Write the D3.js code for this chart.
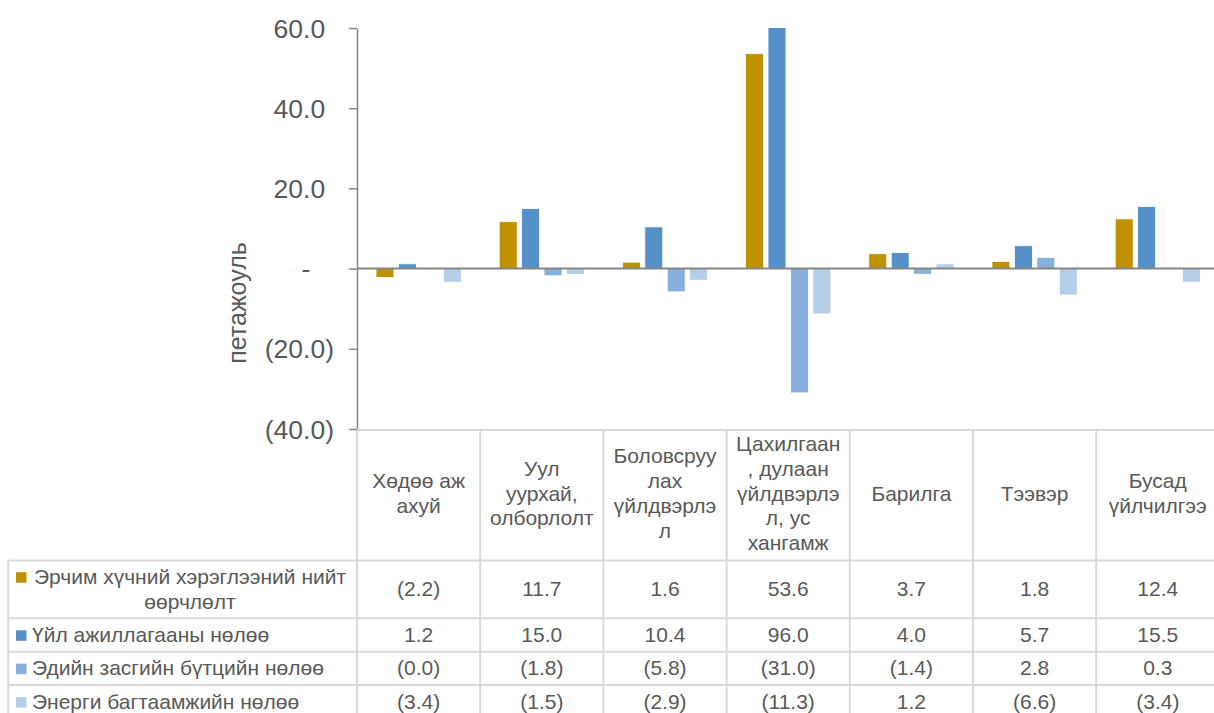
<!DOCTYPE html>
<html>
<head>
<meta charset="utf-8">
<script src="https://cdn.jsdelivr.net/npm/d3@7"></script>
<style>
  body { margin: 0; background: #fff; }
  svg { display: block; font-family: "Liberation Sans", Arial, sans-serif; }
</style>
</head>
<body>
<div id="chart"></div>
<script>
// categories, wrapped the way the table header shows them
const categories = [
  ["Хөдөө аж", "ахуй"],
  ["Уул", "уурхай,", "олборлолт"],
  ["Боловсруу", "лах", "үйлдвэрлэ", "л"],
  ["Цахилгаан", ", дулаан", "үйлдвэрлэ", "л, ус", "хангамж"],
  ["Барилга"],
  ["Тээвэр"],
  ["Бусад", "үйлчилгээ"]
]
const seriesNames = [
  ["Эрчим хүчний хэрэглээний нийт", "өөрчлөлт"],
  ["Үйл ажиллагааны нөлөө"],
  ["Эдийн засгийн бүтцийн нөлөө"],
  ["Энерги багтаамжийн нөлөө"]
]
const totalChange     = [-2.2, 11.7, 1.6, 53.6, 3.7, 1.8, 12.4]
const activityEffect  = [1.2, 15.0, 10.4, 96.0, 4.0, 5.7, 15.5]
const structureEffect = [-0.04, -1.8, -5.8, -31.0, -1.4, 2.8, 0.3]
const intensityEffect = [-3.4, -1.5, -2.9, -11.3, 1.2, -6.6, -3.4]
const yTicks = [-40, -20, 0, 20, 40, 60]
const colors = ["#BF9000", "#5591C8", "#87B0DC", "#B7CEE9"]

const seriesValues = [totalChange, activityEffect, structureEffect, intensityEffect]

const W = 1214, H = 713
const plotLeft = 357, plotTop = 28, plotBottom = 429, colW = 123.2
const tableLeft = 8.3
const headerTop = 430
const rowEdges = [560.5, 618.3, 651.7, 685, 718.5]
const gridColor = "#D9D9D9", textColor = "#595959"

const svg = d3.select("#chart").append("svg")
  .attr("width", W)
  .attr("height", H)

const x = d3.scaleBand()
  .domain(d3.range(categories.length))
  .range([plotLeft, plotLeft + colW * categories.length])

const x1 = d3.scaleBand()
  .domain(d3.range(seriesValues.length))
  .range([19, colW - 19])
  .paddingInner(0.2)

const y = d3.scaleLinear()
  .domain([-40, 60])
  .range([plotBottom, plotTop])

const fmt = v => v < 0 ? "(" + d3.format(".1f")(-v) + ")" : d3.format(".1f")(v)

svg.append("clipPath").attr("id", "plotclip")
  .append("rect")
  .attr("x", plotLeft).attr("y", plotTop)
  .attr("width", W - plotLeft).attr("height", plotBottom - plotTop)

// bars
const groups = svg.append("g").attr("clip-path", "url(#plotclip)")
  .selectAll("g")
  .data(seriesValues)
  .enter()
  .append("g")
  .attr("fill", (d, i) => colors[i])

groups.selectAll("rect")
  .data((d, s) => d.map((v, i) => ({ v, i, s })))
  .enter()
  .append("rect")
  .attr("x", d => x(d.i) + x1(d.s))
  .attr("width", x1.bandwidth())
  .attr("y", d => y(Math.max(0, d.v)))
  .attr("height", d => Math.abs(y(d.v) - y(0)))
  .attr("stroke", "#fff")
  .attr("stroke-width", 0.8)

// zero line
svg.append("line")
  .attr("x1", plotLeft).attr("x2", W)
  .attr("y1", y(0)).attr("y2", y(0))
  .attr("stroke", "#868686")
  .attr("stroke-width", 2)

// y axis
const yAxis = svg.append("g")
  .attr("transform", `translate(${plotLeft},0)`)
  .call(d3.axisLeft(y).tickValues(yTicks).tickSize(8).tickSizeOuter(0).tickPadding(15).tickFormat(""))

yAxis.select(".domain").attr("stroke", "#868686").attr("stroke-width", 1.5)
yAxis.selectAll(".tick line").attr("stroke", "#868686").attr("stroke-width", 1.5)

const tickText = yAxis.selectAll(".tick text")
  .attr("fill", textColor)
  .attr("font-size", 26.5)
  .attr("font-family", "Liberation Sans, Arial, sans-serif")
  .attr("dy", "0.34em")

tickText.each(function (d) {
  const t = d3.select(this)
  if (d === 0) {
    t.append("tspan").text("-")
    t.append("tspan").attr("fill-opacity", 0).text("0)")
  } else if (d < 0) {
    t.append("tspan").text(fmt(d))
  } else {
    t.append("tspan").text(fmt(d))
    t.append("tspan").attr("fill-opacity", 0).text(")")
  }
})

// axis title
svg.append("text")
  .attr("transform", "translate(246,303) rotate(-90)")
  .attr("text-anchor", "middle")
  .attr("fill", textColor)
  .attr("font-size", 25)
  .text("петажоуль")

// data table grid
const colEdges = d3.range(categories.length + 1).map(i => plotLeft + colW * i)
const grid = svg.append("g")
  .attr("stroke", gridColor)
  .attr("stroke-width", 2)

grid.append("line")
  .attr("x1", plotLeft).attr("x2", W)
  .attr("y1", headerTop).attr("y2", headerTop)

grid.selectAll(".hrow")
  .data(rowEdges)
  .enter()
  .append("line")
  .attr("x1", tableLeft).attr("x2", W)
  .attr("y1", d => d).attr("y2", d => d)

grid.selectAll(".vcol")
  .data(colEdges)
  .enter()
  .append("line")
  .attr("x1", d => d).attr("x2", d => d)
  .attr("y1", headerTop).attr("y2", H + 10)

grid.append("line")
  .attr("x1", tableLeft).attr("x2", tableLeft)
  .attr("y1", rowEdges[0]).attr("y2", H + 10)

// header text
const lineH = 24.7
svg.append("g")
  .selectAll("text")
  .data(categories)
  .enter()
  .append("text")
  .attr("text-anchor", "middle")
  .attr("fill", textColor)
  .attr("font-size", 21)
  .each(function (lines, i) {
    const first = 500.5 - (lines.length - 1) * lineH / 2
    d3.select(this).selectAll("tspan")
      .data(lines)
      .enter()
      .append("tspan")
      .attr("x", x(i) + x.bandwidth() / 2)
      .attr("y", (l, k) => first + k * lineH)
      .text(l => l)
  })

// legend rows
const rowCenter = k => (rowEdges[k] + rowEdges[k + 1]) / 2
const legendRows = svg.append("g")
  .selectAll("g")
  .data(seriesNames)
  .enter()
  .append("g")

legendRows.each(function (lines, k) {
  const g = d3.select(this)
  const first = rowCenter(k) + 6.8 - (lines.length - 1) * 25 / 2
  g.append("rect")
    .attr("x", 16)
    .attr("y", first - 11.5)
    .attr("width", 10.5)
    .attr("height", 10.5)
    .attr("fill", colors[k])
  const t = g.append("text")
    .attr("fill", textColor)
    .attr("font-size", 21)
    .attr("text-anchor", lines.length > 1 ? "middle" : "start")
  t.selectAll("tspan")
    .data(lines)
    .enter()
    .append("tspan")
    .attr("x", lines.length > 1 ? 190 : 32)
    .attr("y", (l, j) => first + j * 25)
    .text(l => l)
})

// table values
seriesValues.forEach((vals, k) => {
  svg.append("g")
    .selectAll("text")
    .data(vals)
    .enter()
    .append("text")
    .attr("x", (d, i) => x(i) + x.bandwidth() / 2)
    .attr("y", rowCenter(k) + 7)
    .attr("text-anchor", "middle")
    .attr("fill", textColor)
    .attr("font-size", 21)
    .text(d => fmt(d))
})
</script>
</body>
</html>
